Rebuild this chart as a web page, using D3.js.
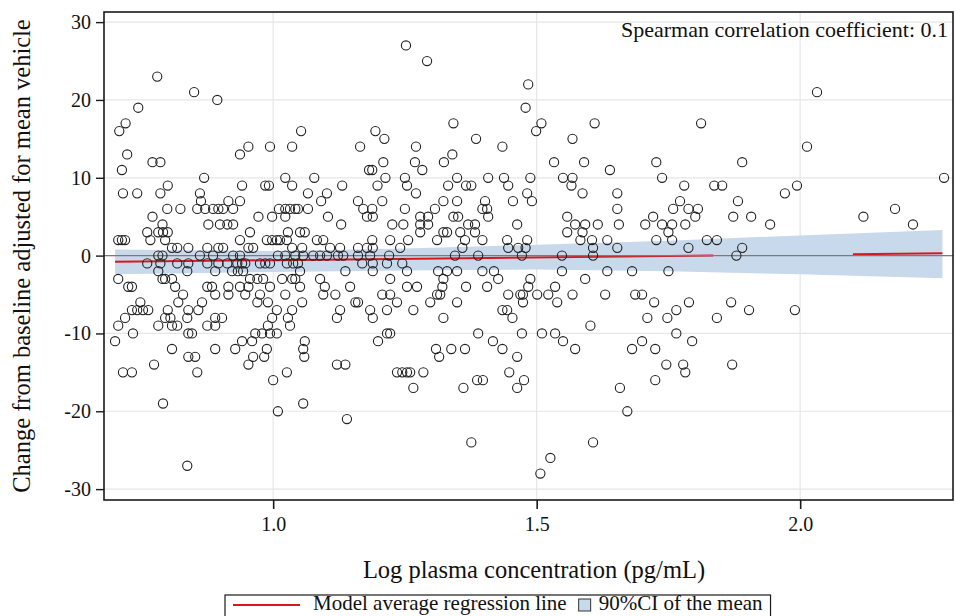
<!DOCTYPE html>
<html>
<head>
<meta charset="utf-8">
<script src="https://cdn.jsdelivr.net/npm/d3@7"></script>
<style>
  html, body { margin: 0; padding: 0; background: #fff; }
  svg { display: block; }
  text { font-family: "Liberation Serif", "Times New Roman", serif; fill: #111; }
</style>
</head>
<body>
<svg id="chart" width="955" height="616"></svg>
<script>
// Change from baseline values (one per row) and the log plasma concentrations observed at each value
const change = [27, 25, 23, 22, 21, 20, 19, 17, 16, 15, 14, 13, 12, 11, 10, 9, 8, 7, 6, 5, 4, 3, 2, 1, 0,
  -1, -2, -3, -4, -5, -6, -7, -8, -9, -10, -11, -12, -13, -14, -15, -16, -17, -19, -20, -21, -24, -26, -27, -28];

const logConc = [
  [1.252],
  [1.292],
  [0.780],
  [1.484],
  [0.850, 2.032],
  [0.894],
  [0.744, 1.479],
  [0.720, 1.342, 1.509, 1.610, 1.812],
  [0.708, 1.053, 1.194, 1.499],
  [1.211, 1.385, 1.568],
  [0.953, 0.994, 1.036, 1.165, 1.271, 1.435, 2.013],
  [0.723, 0.937, 1.340],
  [0.771, 0.786, 1.209, 1.269, 1.324, 1.533, 1.590, 1.727, 1.890],
  [0.713, 1.182, 1.188, 1.283, 1.639],
  [0.869, 1.023, 1.078, 1.213, 1.250, 1.349, 1.408, 1.438, 1.488, 1.550, 1.568, 1.738, 2.273],
  [0.800, 0.941, 0.985, 0.992, 1.036, 1.131, 1.198, 1.254, 1.332, 1.366, 1.376, 1.446, 1.566, 1.780, 1.837, 1.852, 1.994],
  [0.715, 0.742, 0.786, 0.861, 1.066, 1.102, 1.271, 1.482, 1.587, 1.653, 1.971],
  [0.863, 0.915, 0.937, 1.091, 1.161, 1.207, 1.323, 1.349, 1.402, 1.455, 1.491, 1.772, 1.882],
  [0.799, 0.824, 0.856, 0.871, 0.886, 0.896, 0.905, 0.924, 1.011, 1.023, 1.032, 1.042, 1.047, 1.066, 1.171, 1.188, 1.250, 1.307, 1.397, 1.406, 1.653, 1.759, 1.788, 1.806, 2.180],
  [0.771, 0.972, 0.998, 1.023, 1.104, 1.178, 1.189, 1.279, 1.294, 1.342, 1.351, 1.408, 1.558, 1.721, 1.801, 1.873, 1.907, 2.120],
  [0.790, 0.877, 0.899, 0.913, 0.924, 1.129, 1.226, 1.247, 1.279, 1.294, 1.370, 1.383, 1.463, 1.573, 1.592, 1.616, 1.656, 1.706, 1.738, 1.757, 1.782, 1.943, 2.214],
  [0.761, 0.782, 0.791, 0.800, 0.956, 1.028, 1.051, 1.060, 1.279, 1.323, 1.330, 1.355, 1.383, 1.558, 1.587, 1.750],
  [0.706, 0.713, 0.719, 0.767, 0.795, 0.937, 0.988, 0.998, 1.007, 1.013, 1.026, 1.083, 1.095, 1.188, 1.222, 1.256, 1.311, 1.364, 1.397, 1.444, 1.482, 1.583, 1.605, 1.634, 1.727, 1.757, 1.823, 1.842],
  [0.808, 0.818, 0.839, 0.875, 0.896, 0.905, 0.953, 0.962, 1.036, 1.055, 1.108, 1.127, 1.161, 1.178, 1.189, 1.241, 1.359, 1.446, 1.465, 1.479, 1.607, 1.653, 1.788, 1.890],
  [0.782, 0.790, 0.861, 0.886, 0.924, 0.937, 1.009, 1.023, 1.042, 1.057, 1.076, 1.089, 1.102, 1.123, 1.133, 1.161, 1.184, 1.220, 1.345, 1.389, 1.472, 1.548, 1.607, 1.879],
  [0.761, 0.786, 0.818, 0.839, 0.875, 0.896, 0.913, 0.932, 0.941, 0.947, 0.975, 0.985, 0.994, 1.026, 1.038, 1.047, 1.169, 1.189, 1.216, 1.245],
  [0.782, 0.837, 0.890, 0.922, 0.933, 0.943, 1.051, 1.137, 1.189, 1.254, 1.313, 1.330, 1.349, 1.397, 1.419, 1.548, 1.634, 1.681, 1.750],
  [0.706, 0.790, 0.795, 0.808, 0.956, 0.970, 0.981, 1.017, 1.036, 1.042, 1.089, 1.222, 1.323, 1.427, 1.488, 1.592],
  [0.725, 0.732, 0.814, 0.875, 0.884, 0.915, 0.937, 0.953, 0.994, 1.051, 1.098, 1.146, 1.254, 1.273, 1.321, 1.366, 1.406, 1.484, 1.535],
  [0.829, 0.890, 0.915, 0.947, 0.975, 1.023, 1.095, 1.118, 1.207, 1.222, 1.311, 1.317, 1.446, 1.469, 1.474, 1.501, 1.522, 1.568, 1.630, 1.687, 1.700],
  [0.748, 0.820, 0.865, 0.970, 0.990, 1.055, 1.156, 1.161, 1.235, 1.298, 1.349, 1.474, 1.539, 1.723, 1.789, 1.869],
  [0.732, 0.742, 0.753, 0.763, 0.800, 0.839, 0.858, 1.007, 1.036, 1.127, 1.184, 1.216, 1.266, 1.435, 1.444, 1.765, 1.903, 1.990],
  [0.719, 0.795, 0.805, 0.837, 0.890, 0.903, 0.998, 1.028, 1.121, 1.189, 1.323, 1.454, 1.710, 1.748, 1.842],
  [0.706, 0.782, 0.808, 0.818, 0.875, 0.890, 0.990, 1.032, 1.602],
  [0.734, 0.839, 0.846, 0.966, 0.979, 0.994, 1.007, 1.216, 1.222, 1.389, 1.472, 1.510, 1.535, 1.765],
  [0.700, 0.941, 0.960, 1.060, 1.199, 1.417, 1.550, 1.700, 1.795],
  [0.808, 0.890, 0.928, 0.988, 1.057, 1.309, 1.338, 1.364, 1.435, 1.573, 1.681, 1.725],
  [0.839, 0.852, 0.962, 0.983, 1.059, 1.315, 1.463],
  [0.774, 0.953, 1.121, 1.137, 1.746, 1.778, 1.871],
  [0.715, 0.732, 0.856, 1.026, 1.235, 1.245, 1.254, 1.260, 1.285, 1.448, 1.782],
  [1.000, 1.387, 1.398, 1.476, 1.725],
  [1.266, 1.361, 1.463, 1.658],
  [0.791, 1.057],
  [1.009, 1.672],
  [1.140],
  [1.376, 1.607],
  [1.526],
  [0.837],
  [1.507]
];

// 90% confidence band of the mean
const bandX  = [0.70, 1.00, 1.25, 1.50, 1.75, 2.00, 2.27];
const bandLo = [-2.4, -2.1, -1.9, -1.8, -2.0, -2.4, -2.9];
const bandHi = [0.8, 0.6, 0.9, 1.4, 1.9, 2.6, 3.3];

// Model average regression line (visible pieces)
const fitX1 = [0.70, 1.835];
const fitY1 = [-0.80, 0.0];
const fitX2 = [2.10, 2.27];
const fitY2 = [0.18, 0.30];

// Axis ticks
const xTicks = [1.0, 1.5, 2.0];
const yTicks = [-30, -20, -10, 0, 10, 20, 30];

const spearman = "Spearman correlation coefficient: 0.1";
const xTitle = "Log plasma concentration (pg/mL)";
const yTitle = "Change from baseline adjusted for mean vehicle";
const legendLine = "Model average regression line";
const legendBand = "90%CI of the mean";

const points = [];
change.forEach((c, i) => logConc[i].forEach(x => points.push({ x, y: c })));

const svg = d3.select("#chart");
const plot = { left: 104, right: 953, top: 12, bottom: 500 };

const x = d3.scaleLinear().domain([0.679, 2.290]).range([plot.left, plot.right]);
const y = d3.scaleLinear().domain([-31.4, 31.3]).range([plot.bottom, plot.top]);

// grid
const grid = svg.append("g");
grid.selectAll(".gy").data(yTicks).join("line")
  .attr("x1", plot.left).attr("x2", plot.right)
  .attr("y1", d => y(d)).attr("y2", d => y(d))
  .attr("stroke", "#e6e6e6").attr("stroke-width", 1.2);
grid.selectAll(".gx").data(xTicks).join("line")
  .attr("x1", d => x(d)).attr("x2", d => x(d))
  .attr("y1", plot.top).attr("y2", plot.bottom)
  .attr("stroke", "#e6e6e6").attr("stroke-width", 1.2);

// confidence band
const bandData = bandX.map((bx, i) => ({ x: bx, lo: bandLo[i], hi: bandHi[i] }));
svg.append("path").datum(bandData)
  .attr("d", d3.area().x(d => x(d.x)).y0(d => y(d.lo)).y1(d => y(d.hi)))
  .attr("fill", "#c9d9ec");

// regression line
const lineGen = d3.line().x(d => x(d[0])).y(d => y(d[1]));
[[fitX1, fitY1], [fitX2, fitY2]].forEach(([fx, fy]) => {
  svg.append("path").datum(fx.map((v, i) => [v, fy[i]]))
    .attr("d", lineGen).attr("fill", "none")
    .attr("stroke", "#d7191c").attr("stroke-width", 2);
});

// zero reference line
svg.append("line")
  .attr("x1", plot.left).attr("x2", plot.right)
  .attr("y1", y(0)).attr("y2", y(0))
  .attr("stroke", "#7a7a7a").attr("stroke-width", 1.3);

// observations
svg.append("g").selectAll("circle").data(points).join("circle")
  .attr("cx", d => x(d.x)).attr("cy", d => y(d.y)).attr("r", 4.6)
  .attr("fill", "none").attr("stroke", "#222").attr("stroke-width", 1.1);

// frame
svg.append("rect")
  .attr("x", plot.left).attr("y", plot.top)
  .attr("width", plot.right - plot.left).attr("height", plot.bottom - plot.top)
  .attr("fill", "none").attr("stroke", "#1a1a1a").attr("stroke-width", 1.6);

// axes
const yAxis = svg.append("g").attr("transform", `translate(${plot.left},0)`)
  .call(d3.axisLeft(y).tickValues(yTicks).tickSize(8).tickPadding(5).tickFormat(d => String(d)));
yAxis.select(".domain").remove();
yAxis.selectAll("line").attr("stroke", "#1a1a1a").attr("stroke-width", 1.4);
yAxis.selectAll("text").style("font-size", "20px").style("font-family", "Liberation Serif, serif").attr("fill", "#111");

const xAxis = svg.append("g").attr("transform", `translate(0,${plot.bottom})`)
  .call(d3.axisBottom(x).tickValues(xTicks).tickSize(9).tickPadding(8).tickFormat(d3.format(".1f")));
xAxis.select(".domain").remove();
xAxis.selectAll("line").attr("stroke", "#1a1a1a").attr("stroke-width", 1.6);
xAxis.selectAll("text").style("font-size", "20px").style("font-family", "Liberation Serif, serif").attr("fill", "#111");

// titles
svg.append("text").attr("x", 534).attr("y", 578)
  .attr("text-anchor", "middle").style("font-size", "24.5px").text(xTitle);
svg.append("text").attr("transform", `translate(30,${(plot.top + plot.bottom) / 2}) rotate(-90)`)
  .attr("text-anchor", "middle").style("font-size", "24.5px").text(yTitle);

svg.append("text").attr("x", 948).attr("y", 37)
  .attr("text-anchor", "end").style("font-size", "22px").text(spearman);

// legend
const lg = svg.append("g");
const box = lg.append("rect").attr("x", 225).attr("y", 595).attr("height", 26)
  .attr("fill", "#fff").attr("stroke", "#1a1a1a").attr("stroke-width", 1.2);
lg.append("line").attr("x1", 233).attr("x2", 300).attr("y1", 605).attr("y2", 605)
  .attr("stroke", "#d7191c").attr("stroke-width", 2);
const t1 = lg.append("text").attr("x", 313).attr("y", 610).style("font-size", "21px").text(legendLine);
const sqX = 313 + t1.node().getComputedTextLength() + 12;
lg.append("rect").attr("x", sqX).attr("y", 599).attr("width", 12).attr("height", 12)
  .attr("fill", "#c9d9ec").attr("stroke", "#333").attr("stroke-width", 1);
const t2 = lg.append("text").attr("x", sqX + 20).attr("y", 610).style("font-size", "21px").text(legendBand);
box.attr("width", sqX + 20 + t2.node().getComputedTextLength() + 8 - 225);
</script>
</body>
</html>
